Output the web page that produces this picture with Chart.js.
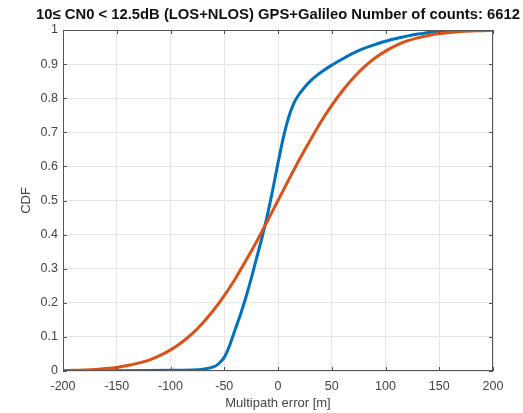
<!DOCTYPE html>
<html>
<head>
<meta charset="utf-8">
<script src="https://cdn.jsdelivr.net/npm/chart.js@4"></script>
<style>
  html, body { margin: 0; padding: 0; background: #fff; }
  #wrap { width: 523px; height: 413px; }
</style>
</head>
<body>
<div id="wrap"><canvas id="cdfChart" width="523" height="413"></canvas></div>
<script>
// empirical CDF of multipath error (blue)
const empX = [-200, -150, -100, -80, -70, -60, -55, -50, -45, -40, -35, -30, -25, -20, -15, -10, -5, 0, 5, 10, 15, 20, 25, 30, 35, 40, 50, 60, 70, 80, 90, 100, 110, 120, 130, 140, 150, 160, 175, 200];
const empY = [0, 0.001, 0.002, 0.003, 0.005, 0.012, 0.022, 0.04, 0.075, 0.12, 0.165, 0.215, 0.27, 0.33, 0.39, 0.455, 0.53, 0.61, 0.685, 0.745, 0.787, 0.813, 0.833, 0.85, 0.864, 0.876, 0.897, 0.915, 0.932, 0.946, 0.957, 0.967, 0.975, 0.982, 0.988, 0.993, 0.996, 0.998, 1, 1];

// fitted CDF (orange)
const fitX = [-200, -190, -180, -170, -160, -150, -140, -130, -120, -110, -100, -90, -80, -70, -60, -50, -40, -30, -20, -10, 0, 10, 20, 30, 40, 50, 60, 70, 80, 90, 100, 110, 120, 130, 140, 150, 160, 170, 180, 190, 200];
const fitY = [0.001, 0.002, 0.003, 0.0045, 0.007, 0.0105, 0.016, 0.023, 0.032, 0.045, 0.062, 0.083, 0.109, 0.141, 0.178, 0.221, 0.269, 0.323, 0.379, 0.439, 0.5, 0.561, 0.621, 0.677, 0.731, 0.779, 0.822, 0.859, 0.891, 0.917, 0.938, 0.955, 0.968, 0.977, 0.984, 0.9895, 0.993, 0.9955, 0.997, 0.998, 0.999];

const xTicks = [-200, -150, -100, -50, 0, 50, 100, 150, 200];
const yTicks = [0, 0.1, 0.2, 0.3, 0.4, 0.5, 0.6, 0.7, 0.8, 0.9, 1];

const titleText = '10\u2264 CN0 < 12.5dB (LOS+NLOS) GPS+Galileo Number of counts: 6612';

const toPoints = (xs, ys) => xs.map((x, i) => ({ x: x, y: ys[i] }));

// box round the axes, inward ticks and the title over the plot, matlab style
const axesBox = {
    id: 'axesBox',
    afterDraw(chart) {
        const { ctx, chartArea: a, scales } = chart;
        ctx.save();
        ctx.strokeStyle = '#555';
        ctx.lineWidth = 1;
        ctx.strokeRect(a.left + 0.5, a.top + 0.5, a.right - a.left - 1, a.bottom - a.top - 1);
        ctx.beginPath();
        xTicks.forEach(v => {
            const px = Math.round(scales.x.getPixelForValue(v)) + 0.5;
            ctx.moveTo(px, a.bottom); ctx.lineTo(px, a.bottom - 4);
            ctx.moveTo(px, a.top); ctx.lineTo(px, a.top + 4);
        });
        yTicks.forEach(v => {
            const py = Math.round(scales.y.getPixelForValue(v)) + 0.5;
            ctx.moveTo(a.left, py); ctx.lineTo(a.left + 4, py);
            ctx.moveTo(a.right, py); ctx.lineTo(a.right - 4, py);
        });
        ctx.stroke();

        ctx.fillStyle = '#111';
        ctx.font = 'bold 14.8px "Liberation Sans", Arial, sans-serif';
        ctx.textAlign = 'center';
        ctx.textBaseline = 'middle';
        ctx.fillText(titleText, (a.left + a.right) / 2, 15);
        ctx.restore();
    }
};

Chart.defaults.font.family = '"Liberation Sans", Arial, Helvetica, sans-serif';
Chart.defaults.color = '#444';

new Chart(document.getElementById('cdfChart'), {
    type: 'line',
    data: {
        datasets: [
            {
                label: 'fit',
                data: toPoints(fitX, fitY),
                borderColor: '#D95319',
                borderWidth: 3,
                pointRadius: 0,
                tension: 0.2,
                order: 1
            },
            {
                label: 'empirical',
                data: toPoints(empX, empY),
                borderColor: '#0072BD',
                borderWidth: 3,
                pointRadius: 0,
                tension: 0.2,
                order: 2
            }
        ]
    },
    options: {
        responsive: false,
        animation: false,
        layout: { padding: { left: 0, right: 30, top: 30, bottom: 0 } },
        plugins: {
            legend: { display: false },
            tooltip: { enabled: false },
            title: { display: false }
        },
        scales: {
            x: {
                type: 'linear',
                min: -200,
                max: 200,
                afterBuildTicks: s => { s.ticks = xTicks.map(v => ({ value: v })); },
                afterFit: s => { s.height = 42; },
                ticks: { font: { size: 12.5 }, padding: 8, maxRotation: 0, callback: v => String(v) },
                grid: { color: '#e6e6e6', drawTicks: false },
                border: { display: false },
                title: { display: true, text: 'Multipath error [m]', font: { size: 13 }, padding: { top: 4, bottom: 2 } }
            },
            y: {
                min: 0,
                max: 1,
                afterBuildTicks: s => { s.ticks = yTicks.map(v => ({ value: v })); },
                afterFit: s => { s.width = 63; },
                ticks: { font: { size: 12.5 }, padding: 5, callback: v => String(v) },
                grid: { color: '#e6e6e6', drawTicks: false },
                border: { display: false },
                title: { display: true, text: 'CDF', font: { size: 13 }, padding: { top: 19, bottom: 0 } }
            }
        }
    },
    plugins: [axesBox]
});
</script>
</body>
</html>
